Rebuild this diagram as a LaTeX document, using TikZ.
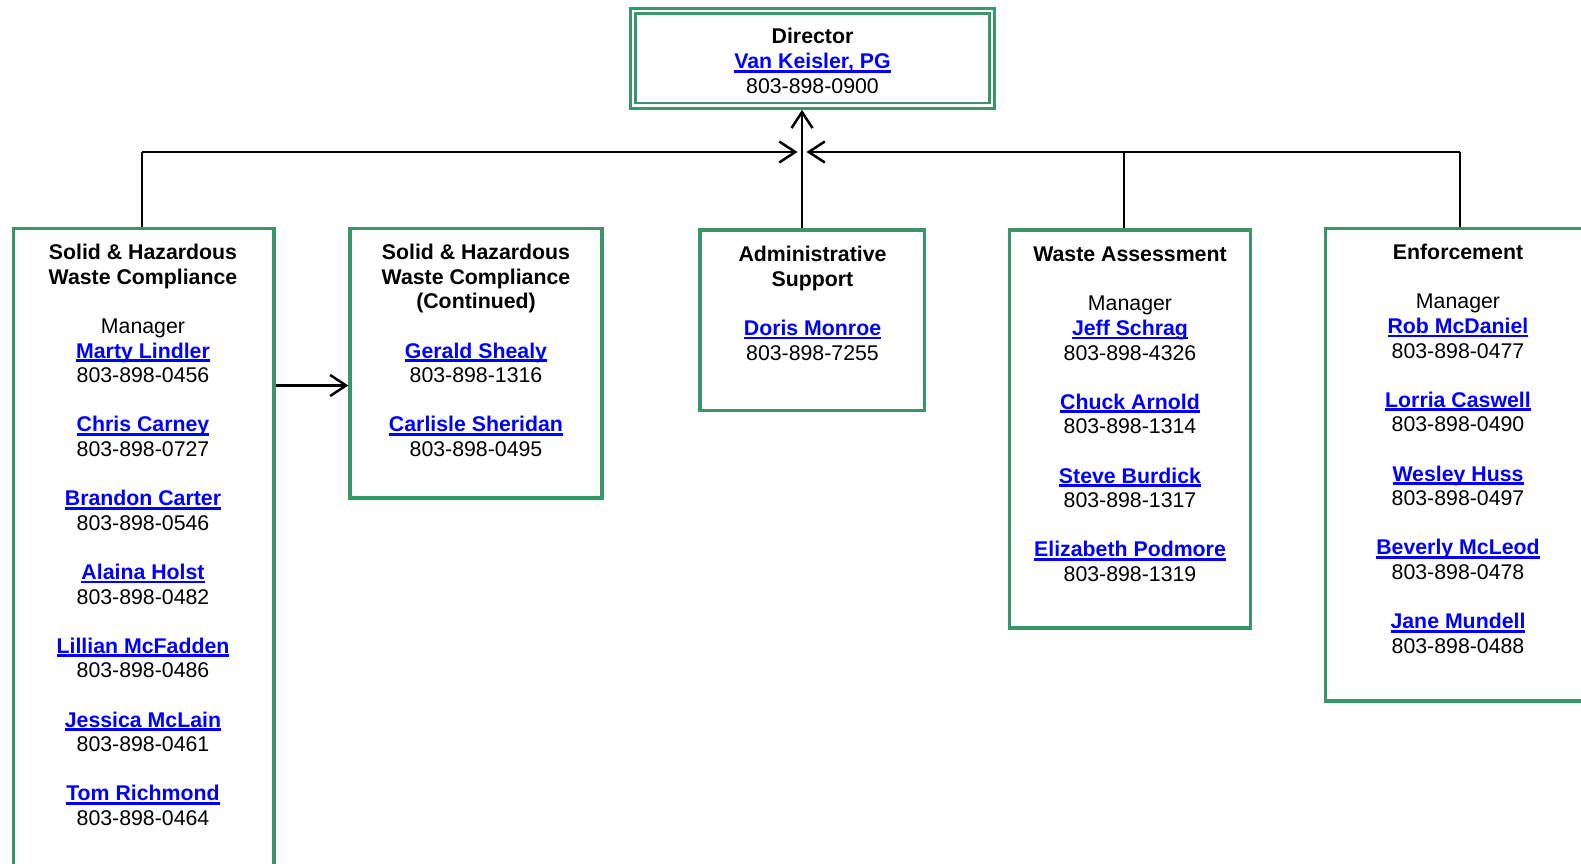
\documentclass[tikz,border=0pt]{standalone}
\usepackage{fontspec}
\setmainfont{Liberation Sans}
\usetikzlibrary{arrows.meta}
\definecolor{boxgreen}{RGB}{56,150,104}
\definecolor{linkblue}{RGB}{0,0,255}
\newsavebox\lnkbox
\newcommand\lnk[1]{{\bfseries\color{linkblue}\sbox\lnkbox{#1}\rlap{\rule[-4pt]{\wd\lnkbox}{2.8pt}}\usebox\lnkbox}}
\newcommand\stk[1]{\begin{tabular}[t]{@{}c@{}}#1\end{tabular}}
\tikzset{
  box/.style={draw=boxgreen, line width=3.2pt, rectangle, inner sep=0pt},
  dbox/.style={draw=boxgreen, line width=3pt, rectangle, inner sep=0pt},
  txt/.style={anchor=base, inner sep=0pt, outer sep=0pt},
  conn/.style={line width=2.5pt, black},
  drop/.style={line width=1.4pt, black},
  tip/.style={-{Straight Barb[length=16pt,width=21pt]}}
}
\begin{document}
\begin{tikzpicture}[x=1pt,y=-1pt,font=\fontsize{21.3}{24.6}\selectfont]
\useasboundingbox (0,0) rectangle (1581,864);
\clip (0,0) rectangle (1581,864);
% director
\node[dbox, minimum width=364.3pt, minimum height=100pt] (dir) at (812.15,58.3) {};
\node[dbox, minimum width=354pt, minimum height=89.2pt, line width=2.6pt] (dirin) at (812.2,58.4) {};
\node[txt] (t0) at (812.5,44) {\stk{\textbf{Director}\\ \lnk{Van Keisler, PG}\\ 803-898-0900}};
% boxes
\node[box, minimum width=260.7pt, minimum height=671.7pt] (b1) at (143.65,564) {};
\node[box, minimum width=252pt, minimum height=269.7pt] (b2) at (476,363.15) {};
\node[box, minimum width=224.5pt, minimum height=180.4pt] (b3) at (812.25,320.2) {};
\node[box, minimum width=241pt, minimum height=398pt] (b4) at (1129.8,429) {};
\node[box, minimum width=284.3pt, minimum height=472.7pt] (b5) at (1467.85,464.65) {};
% texts
\node[txt] (t1) at (143,259.6) {\stk{\textbf{Solid \& Hazardous}\\ \textbf{Waste Compliance}\\ \\
Manager\\ \lnk{Marty Lindler}\\ 803-898-0456\\ \\
\lnk{Chris Carney}\\ 803-898-0727\\ \\
\lnk{Brandon Carter}\\ 803-898-0546\\ \\
\lnk{Alaina Holst}\\ 803-898-0482\\ \\
\lnk{Lillian McFadden}\\ 803-898-0486\\ \\
\lnk{Jessica McLain}\\ 803-898-0461\\ \\
\lnk{Tom Richmond}\\ 803-898-0464}};
\node[txt] (t2) at (476,259.6) {\stk{\textbf{Solid \& Hazardous}\\ \textbf{Waste Compliance}\\ \textbf{(Continued)}\\ \\
\lnk{Gerald Shealy}\\ 803-898-1316\\ \\
\lnk{Carlisle Sheridan}\\ 803-898-0495}};
\node[txt] (t3) at (812.5,261.6) {\stk{\textbf{Administrative}\\ \textbf{Support}\\ \\
\lnk{Doris Monroe}\\ 803-898-7255}};
\node[txt] (t4) at (1130,261.6) {\stk{\textbf{Waste Assessment}\\ \\
Manager\\ \lnk{Jeff Schrag}\\ 803-898-4326\\ \\
\lnk{Chuck Arnold}\\ 803-898-1314\\ \\
\lnk{Steve Burdick}\\ 803-898-1317\\ \\
\lnk{Elizabeth Podmore}\\ 803-898-1319}};
\node[txt] (t5) at (1458,259.6) {\stk{\textbf{Enforcement}\\ \\
Manager\\ \lnk{Rob McDaniel}\\ 803-898-0477\\ \\
\lnk{Lorria Caswell}\\ 803-898-0490\\ \\
\lnk{Wesley Huss}\\ 803-898-0497\\ \\
\lnk{Beverly McLeod}\\ 803-898-0478\\ \\
\lnk{Jane Mundell}\\ 803-898-0488}};
% connectors
\coordinate (hub) at (802,152);
\coordinate (jl) at (142,152);
\coordinate (j4) at (1124,152);
\coordinate (jr) at (1460,152);
\coordinate (tipl) at (797.5,152);
\coordinate (tipr) at (806.5,152);
\coordinate (arrowy) at (0,385.5);
\draw[conn,tip] (b3.north -| hub) -- (dir.south -| hub);
\draw[conn,tip] (jl) -- (tipl);
\draw[conn,tip] (jr) -- (tipr);
\draw[drop] (b1.north -| jl) -- (jl);
\draw[drop] (b4.north -| j4) -- (j4);
\draw[drop] (b5.north -| jr) -- (jr);
\draw[conn,tip] (b1.east |- arrowy) -- (b2.west |- arrowy);
\end{tikzpicture}
\end{document}
